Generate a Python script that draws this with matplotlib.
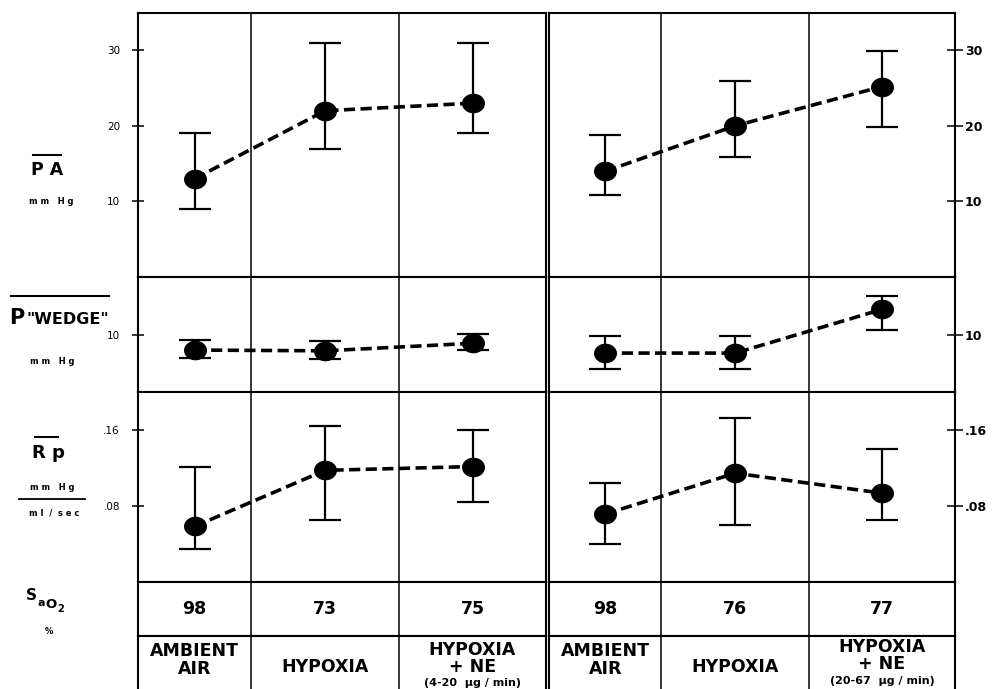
import numpy as np
import matplotlib
matplotlib.use("Agg")
import matplotlib.pyplot as plt
from matplotlib.path import Path
from matplotlib.lines import Line2D

# ---------------- data ----------------
pa_left_mean = [13.0, 22.0, 23.0]
pa_left_low = [9.0, 17.0, 19.0]
pa_left_high = [19.0, 31.0, 31.0]
pa_right_mean = [14.0, 20.0, 25.2]
pa_right_low = [10.8, 15.9, 19.9]
pa_right_high = [18.8, 26.0, 29.9]

wedge_left_mean = [8.0, 7.9, 8.9]
wedge_left_low = [6.9, 6.8, 8.0]
wedge_left_high = [9.3, 9.2, 10.1]
wedge_right_mean = [7.6, 7.6, 13.4]
wedge_right_low = [5.5, 5.5, 10.7]
wedge_right_high = [9.9, 9.9, 15.2]

rp_left_mean = [0.058, 0.117, 0.121]
rp_left_low = [0.034, 0.065, 0.084]
rp_left_high = [0.121, 0.164, 0.160]
rp_right_mean = [0.071, 0.114, 0.093]
rp_right_low = [0.039, 0.059, 0.065]
rp_right_high = [0.104, 0.172, 0.140]

sao2_left = [98, 73, 75]
sao2_right = [98, 76, 77]

conditions = ["AMBIENT\nAIR", "HYPOXIA", "HYPOXIA\n+ NE"]
dose_left = "(4-20  \u00b5g / min)"
dose_right = "(20-67  \u00b5g / min)"

pa_ticks = [10, 20, 30]
pa_ticklabels = ["10", "20", "30"]
wedge_ticks = [10]
wedge_ticklabels = ["10"]
rp_ticks = [0.08, 0.16]
rp_ticklabels = [".08", ".16"]

# ---------------- layout ----------------
W, H = 992, 689
fig = plt.figure(figsize=(W / 100, H / 100), dpi=100)
fig.patch.set_facecolor("white")

col_edges = [0.0, 0.277, 0.64, 1.0]
col_centers = [(col_edges[i] + col_edges[i + 1]) / 2 for i in range(3)]

panels = [(138, 546), (549, 955)]
rows = [(12.5, 277), (277, 391.5), (391.5, 581.5), (581.5, 635.5), (635.5, 700)]


def add_ax(x0, y0, x1, y1):
    return fig.add_axes([x0 / W, 1 - y1 / H, (x1 - x0) / W, (y1 - y0) / H])


th = np.linspace(0, 2 * np.pi, 80)
ellipse = Path(np.c_[1.18 * np.cos(th), np.sin(th)], closed=True)

plot_data = [
    [(pa_left_mean, pa_left_low, pa_left_high),
     (wedge_left_mean, wedge_left_low, wedge_left_high),
     (rp_left_mean, rp_left_low, rp_left_high)],
    [(pa_right_mean, pa_right_low, pa_right_high),
     (wedge_right_mean, wedge_right_low, wedge_right_high),
     (rp_right_mean, rp_right_low, rp_right_high)],
]
ylims = [(0, 35), (2.5, 17.7), (0, 0.20)]
ticks = [(pa_ticks, pa_ticklabels), (wedge_ticks, wedge_ticklabels), (rp_ticks, rp_ticklabels)]
sao2 = [sao2_left, sao2_right]
doses = [dose_left, dose_right]

for p, (px0, px1) in enumerate(panels):
    for r, (ry0, ry1) in enumerate(rows):
        ax = add_ax(px0, ry0, px1, ry1)
        ax.set_xlim(0, 1)
        for s in ax.spines.values():
            s.set_linewidth(1.5)
            s.set_color("black")
        if r == 4:
            ax.spines["bottom"].set_visible(False)
        for e in col_edges[1:3]:
            ax.axvline(e, color="black", lw=1.1)
        ax.set_xticks([])
        if r < 3:
            mean, low, high = plot_data[p][r]
            mean = np.array(mean)
            yerr = [mean - np.array(low), np.array(high) - mean]
            ax.set_ylim(*ylims[r])
            ax.errorbar(col_centers, mean, yerr=yerr, fmt="none", ecolor="black",
                        elinewidth=1.6, capsize=11.5, capthick=1.6, zorder=3)
            ax.plot(col_centers, mean, color="black", lw=2.6, ls=(0, (3.1, 1.5)),
                    marker=ellipse, ms=15.5, mfc="black", mec="black", zorder=4)
            tv, tl = ticks[r]
            ax.set_yticks(tv)
            ax.set_yticklabels(tl)
            if p == 0:
                ax.yaxis.set_ticks_position("left")
                ax.tick_params(axis="y", direction="inout", length=8, width=1.1,
                               pad=9, labelsize=7.5, colors="black")
            else:
                ax.yaxis.set_ticks_position("right")
                ax.tick_params(axis="y", direction="inout", length=11, width=1.1,
                               pad=1.5, labelsize=9)
                for lab in ax.get_yticklabels():
                    lab.set_fontweight("bold")
        else:
            ax.set_ylim(0, 1)
            ax.set_yticks([])
            if r == 3:
                for c, v in zip(col_centers, sao2[p]):
                    ax.text(c, 0.5, str(v), ha="center", va="center",
                            fontsize=12.5, fontweight="bold")
            else:
                def yy(ypx):
                    return 1 - (ypx - ry0) / (ry1 - ry0)

                ax.text(col_centers[0], yy(651.5), conditions[0].split("\n")[0],
                        ha="center", va="center", fontsize=12.5, fontweight="bold")
                ax.text(col_centers[0], yy(668.5), conditions[0].split("\n")[1],
                        ha="center", va="center", fontsize=12.5, fontweight="bold")
                ax.text(col_centers[1], yy(667.5), conditions[1],
                        ha="center", va="center", fontsize=12.5, fontweight="bold")
                top3 = 650 if p == 0 else 647
                ax.text(col_centers[2], yy(top3), conditions[2].split("\n")[0],
                        ha="center", va="center", fontsize=12.5, fontweight="bold")
                ax.text(col_centers[2], yy(top3 + 17), conditions[2].split("\n")[1],
                        ha="center", va="center", fontsize=12.5, fontweight="bold")
                ax.text(col_centers[2], yy(top3 + 33.5), doses[p],
                        ha="center", va="center", fontsize=8, fontweight="bold")


# ---------------- row labels ----------------
def ftext(x, y, s, **kw):
    fig.text(x / W, 1 - y / H, s, **kw)


def fline(x0, x1, y, lw=1.5):
    fig.add_artist(Line2D([x0 / W, x1 / W], [1 - y / H, 1 - y / H],
                          color="black", lw=lw, transform=fig.transFigure))


ftext(47, 170, "P A", ha="center", va="center", fontsize=12.5, fontweight="bold")
fline(33, 61, 155)
ftext(51, 202, "m m   H g", ha="center", va="center", fontsize=6, fontweight="bold")

ftext(9, 318, "P", ha="left", va="center", fontsize=15, fontweight="bold")
ftext(27, 319, "\"WEDGE\"", ha="left", va="center", fontsize=11.5, fontweight="bold")
fline(10.5, 109, 296)
ftext(52, 361, "m m   H g", ha="center", va="center", fontsize=6, fontweight="bold")

ftext(48, 453, "R p", ha="center", va="center", fontsize=13, fontweight="bold")
fline(35, 58, 437)
ftext(52, 487, "m m   H g", ha="center", va="center", fontsize=6, fontweight="bold")
fline(19, 85, 499, lw=1.3)
ftext(54, 513, "m l  /  s e c", ha="center", va="center", fontsize=6, fontweight="bold")

ftext(31, 596, "S", ha="center", va="center", fontsize=11, fontweight="bold")
ftext(41, 603, "a", ha="center", va="center", fontsize=8, fontweight="bold")
ftext(51, 605, "O", ha="center", va="center", fontsize=9.5, fontweight="bold")
ftext(61, 609, "2", ha="center", va="center", fontsize=7, fontweight="bold")
ftext(49, 632, "%", ha="center", va="center", fontsize=6, fontweight="bold")

fig.savefig("out.png", dpi=100, facecolor="white")
